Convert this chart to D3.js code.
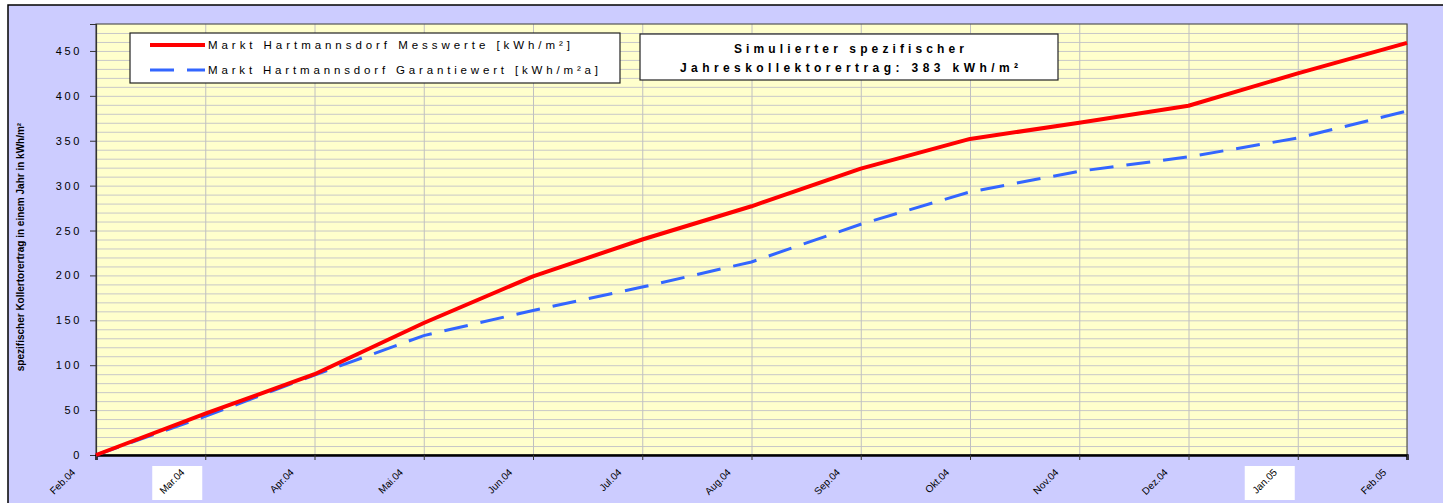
<!DOCTYPE html>
<html>
<head>
<meta charset="utf-8">
<script src="https://cdn.jsdelivr.net/npm/d3@7"></script>
<style>
  body { margin: 0; background: #ffffff; }
  text { font-family: Arial, "Liberation Sans", sans-serif; fill: #000; }
</style>
</head>
<body>
<div id="chart"></div>
<script>
// Monatswerte (kumuliert)
var months = ["Feb.04", "Mar.04", "Apr.04", "Mai.04", "Jun.04", "Jul.04", "Aug.04",
              "Sep.04", "Okt.04", "Nov.04", "Dez.04", "Jan.05", "Feb.05"];
var messwerte = [0, 46, 90, 147, 199, 240, 277, 319, 352, 370, 389, 425, 459];
var garantie = [0, 43, 89, 133, 161, 187, 215, 257, 293, 316, 332, 353, 383];
var yTicks = [0, 50, 100, 150, 200, 250, 300, 350, 400, 450];
var highlighted = ["Mar.04", "Jan.05"]; // labels with white box in the original

var seriesNames = ["Markt Hartmannsdorf Messwerte [kWh/m²]",
                   "Markt Hartmannsdorf Garantiewert [kWh/m²a]"];
var infoText = ["Simulierter spezifischer", "Jahreskollektorertrag: 383 kWh/m²"];
var yTitle = "spezifischer Kollertorertrag in einem Jahr in kWh/m²";

function drawChart() {
    var W = 1443, H = 503;
    var plot = { left: 96, right: 1407, top: 24, bottom: 455 };

    var svg = d3.select("#chart").append("svg")
        .attr("width", W)
        .attr("height", H);

    // outer chart area
    svg.append("rect")
        .attr("x", 8).attr("y", 5)
        .attr("width", W + 10).attr("height", H + 10)
        .attr("fill", "#CCCCFF")
        .attr("stroke", "#000").attr("stroke-width", 1.5);

    var x = d3.scalePoint()
        .domain(months)
        .range([plot.left, plot.right]);

    var y = d3.scaleLinear()
        .domain([0, 480])
        .range([plot.bottom, plot.top]);

    // plot background
    svg.append("rect")
        .attr("x", plot.left).attr("y", plot.top)
        .attr("width", plot.right - plot.left)
        .attr("height", plot.bottom - plot.top)
        .attr("fill", "#FFFFCC");

    // horizontal grid every 10
    svg.append("g")
        .attr("transform", "translate(" + plot.left + ",0)")
        .call(d3.axisLeft(y).tickValues(d3.range(10, 480, 10))
            .tickSize(-(plot.right - plot.left)).tickFormat(""))
        .call(g => g.select(".domain").remove())
        .selectAll("line").attr("stroke", "#C8C8C8").attr("stroke-width", 1);

    // vertical grid per month
    svg.append("g")
        .attr("transform", "translate(0," + plot.bottom + ")")
        .call(d3.axisBottom(x).tickSize(-(plot.bottom - plot.top)).tickFormat(""))
        .call(g => g.select(".domain").remove())
        .selectAll("line").attr("stroke", "#C0C0C0").attr("stroke-width", 1);

    // plot frame
    svg.append("rect")
        .attr("x", plot.left).attr("y", plot.top)
        .attr("width", plot.right - plot.left)
        .attr("height", plot.bottom - plot.top)
        .attr("fill", "none")
        .attr("stroke", "#555").attr("stroke-width", 1.2);

    // y axis
    var yAxis = svg.append("g")
        .attr("transform", "translate(" + plot.left + ",0)")
        .call(d3.axisLeft(y).tickValues(yTicks).tickSize(6).tickPadding(8));
    yAxis.select(".domain").attr("stroke", "#333").attr("stroke-width", 1.2);
    yAxis.selectAll("line").attr("stroke", "#333");
    yAxis.selectAll("text")
        .attr("font-size", "11px")
        .attr("font-family", "Arial, 'Liberation Sans', sans-serif")
        .style("letter-spacing", "2.6px")
        .attr("fill", "#222");

    // x axis
    var xAxis = svg.append("g")
        .attr("transform", "translate(0," + plot.bottom + ")")
        .call(d3.axisBottom(x).tickSize(5).tickFormat(""));
    xAxis.select(".domain").attr("stroke", "#000").attr("stroke-width", 2.5);
    xAxis.selectAll("line").attr("stroke", "#333");

    // x labels, rotated
    var labels = svg.append("g").selectAll("g")
        .data(months)
        .enter().append("g")
        .attr("transform", d => "translate(" + (x(d) - 20) + "," + (plot.bottom + 18) + ")");
    labels.filter(d => highlighted.includes(d))
        .append("rect")
        .attr("x", -33).attr("y", -7)
        .attr("width", 50).attr("height", 34)
        .attr("fill", "#fff");
    labels.append("text")
        .attr("transform", "rotate(-45)")
        .attr("text-anchor", "end")
        .attr("font-size", "10px")
        .attr("fill", d => highlighted.includes(d) ? "#555" : "#222")
        .text(d => d);

    // y axis title
    svg.append("text")
        .attr("transform", "translate(24,247) rotate(-90)")
        .attr("text-anchor", "middle")
        .attr("font-size", "10px")
        .attr("font-weight", "bold")
        .text(yTitle);

    // lines
    var line = d3.line()
        .x((d, i) => x(months[i]))
        .y(d => y(d));

    svg.append("path")
        .datum(garantie)
        .attr("fill", "none")
        .attr("stroke", "#3366FF")
        .attr("stroke-width", 3)
        .attr("stroke-dasharray", "24,13")
        .attr("d", line);

    svg.append("path")
        .datum(messwerte)
        .attr("fill", "none")
        .attr("stroke", "#FF0000")
        .attr("stroke-width", 4)
        .attr("stroke-linejoin", "round")
        .attr("d", line);

    // legend
    var legend = svg.append("g");
    legend.append("rect")
        .attr("x", 130).attr("y", 33)
        .attr("width", 490).attr("height", 50)
        .attr("fill", "#fff")
        .attr("stroke", "#222").attr("stroke-width", 1.2);
    var legendItems = [
        { name: seriesNames[0], color: "#FF0000", width: 4, dash: null, y: 45, len: 362 },
        { name: seriesNames[1], color: "#3366FF", width: 3, dash: "24,13", y: 70, len: 390 }
    ];
    legendItems.forEach(it => {
        legend.append("line")
            .attr("x1", 150).attr("x2", 205)
            .attr("y1", it.y).attr("y2", it.y)
            .attr("stroke", it.color)
            .attr("stroke-width", it.width)
            .attr("stroke-dasharray", it.dash);
        legend.append("text")
            .attr("x", 208).attr("y", it.y + 4)
            .attr("font-size", "11.5px")
            .attr("textLength", it.len)
            .attr("lengthAdjust", "spacing")
            .attr("fill", "#111")
            .text(it.name);
    });

    // info box
    var info = svg.append("g");
    info.append("rect")
        .attr("x", 640).attr("y", 34)
        .attr("width", 418).attr("height", 46)
        .attr("fill", "#fff")
        .attr("stroke", "#222").attr("stroke-width", 1.2);
    var infoLens = [230, 338];
    info.selectAll("text")
        .data(infoText)
        .enter().append("text")
        .attr("x", (d, i) => 849 - infoLens[i] / 2)
        .attr("y", (d, i) => 53 + i * 19)
        .attr("font-size", "12px")
        .attr("font-weight", "bold")
        .attr("textLength", (d, i) => infoLens[i])
        .attr("lengthAdjust", "spacing")
        .attr("fill", "#111")
        .text(d => d);
}

window.onload = drawChart;
</script>
</body>
</html>
